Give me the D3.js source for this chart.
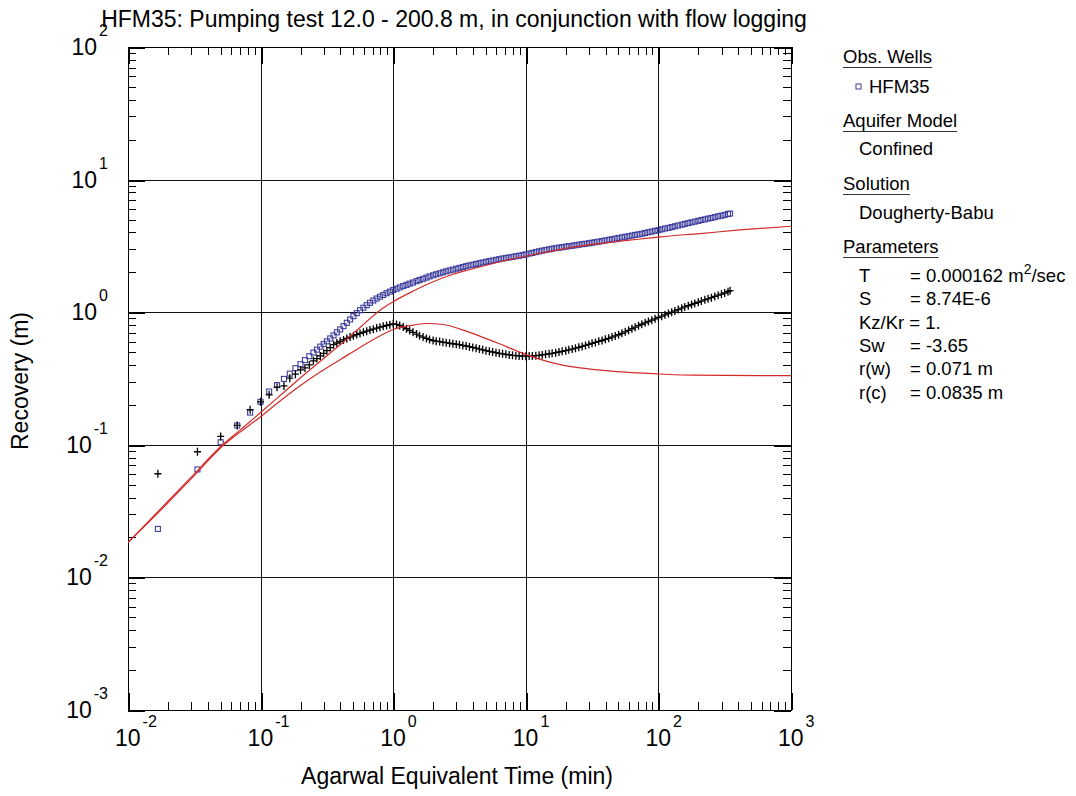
<!DOCTYPE html>
<html>
<head>
<meta charset="utf-8">
<script src="https://cdn.jsdelivr.net/npm/d3@7"></script>
<style>
  body { margin: 0; background: #fff; }
  svg { font-family: Arial, "Liberation Sans", sans-serif; }
</style>
</head>
<body>
<svg id="chart" width="1076" height="796"></svg>
<script>
// observed data: Agarwal equivalent time (min), recovery (m) and derivative
const timeMin = [
  0.0168, 0.0334, 0.0500, 0.0666, 0.0834, 0.0999, 0.116, 0.133, 0.150, 0.166, 0.183, 0.200, 0.216, 0.233, 0.250,
  0.266, 0.282, 0.299, 0.316, 0.335, 0.355, 0.376, 0.398, 0.422, 0.447, 0.473, 0.501, 0.531, 0.562, 0.596, 0.631,
  0.668, 0.708, 0.750, 0.794, 0.841, 0.891, 0.944,
  1.00, 1.06, 1.12, 1.19, 1.26, 1.33, 1.41, 1.50, 1.58, 1.68, 1.78, 1.88, 2.00, 2.11, 2.24, 2.37, 2.51, 2.66, 2.82, 2.99,
  3.16, 3.35, 3.55, 3.76, 3.98, 4.22, 4.47, 4.73, 5.01, 5.31, 5.62, 5.96, 6.31, 6.68, 7.08, 7.50, 7.94, 8.41, 8.91, 9.44,
  10.0, 10.6, 11.2, 11.9, 12.6, 13.3, 14.1, 15.0, 15.8, 16.8, 17.8, 18.8, 20.0, 21.1, 22.4, 23.7, 25.1, 26.6, 28.2, 29.9,
  31.6, 33.5, 35.5, 37.6, 39.8, 42.2, 44.7, 47.3, 50.1, 53.1, 56.2, 59.6, 63.1, 66.8, 70.8, 75.0, 79.4, 84.1, 89.1, 94.4,
  100, 106, 112, 119, 126, 133, 141, 150, 158, 168, 178, 188, 200, 211, 224, 237, 251, 266, 282, 299, 316, 335, 347
];
const recovery = [
  0.0232, 0.0652, 0.1045, 0.140, 0.175, 0.211, 0.252, 0.282, 0.314, 0.344, 0.378, 0.405, 0.435, 0.466, 0.496,
  0.522, 0.550, 0.575, 0.603, 0.634, 0.668, 0.705, 0.741, 0.785, 0.832, 0.881, 0.933, 0.984, 1.035, 1.081, 1.130,
  1.178, 1.225, 1.268, 1.309, 1.349, 1.390, 1.429,
  1.469, 1.503, 1.538, 1.574, 1.607, 1.641, 1.675, 1.714, 1.750, 1.786, 1.824, 1.862, 1.897, 1.932, 1.963, 2.000, 2.032, 2.065, 2.094, 2.128,
  2.158, 2.193, 2.223, 2.254, 2.280, 2.312, 2.339, 2.371, 2.399, 2.427, 2.455, 2.483, 2.512, 2.541, 2.565, 2.588, 2.612, 2.642, 2.667, 2.698,
  2.729, 2.767, 2.799, 2.838, 2.877, 2.911, 2.944, 2.979, 3.013, 3.041, 3.069, 3.090, 3.119, 3.148, 3.170, 3.199, 3.228, 3.258, 3.281, 3.311,
  3.342, 3.373, 3.404, 3.443, 3.475, 3.516, 3.548, 3.589, 3.631, 3.664, 3.707, 3.741, 3.784, 3.828, 3.864, 3.908, 3.954, 4.009, 4.055, 4.111,
  4.159, 4.217, 4.276, 4.325, 4.385, 4.446, 4.508, 4.571, 4.634, 4.699, 4.764, 4.819, 4.887, 4.955, 5.012, 5.082, 5.140, 5.212, 5.284, 5.346, 5.420, 5.495, 5.546
];
const derivative = [
  0.0605, 0.0886, 0.1156, 0.140, 0.184, 0.211, 0.238, 0.272, 0.278, 0.318, 0.341, 0.367, 0.380, 0.400, 0.430,
  0.447, 0.468, 0.490, 0.513, 0.541, 0.569, 0.586, 0.603, 0.618, 0.634, 0.649, 0.664, 0.678, 0.692, 0.706, 0.719,
  0.733, 0.745, 0.759, 0.771, 0.783, 0.794, 0.805,
  0.817, 0.809, 0.794, 0.773, 0.750, 0.728, 0.705, 0.684, 0.664, 0.649, 0.634, 0.622, 0.612, 0.605, 0.600, 0.594, 0.589, 0.583, 0.578, 0.574,
  0.569, 0.562, 0.556, 0.550, 0.542, 0.535, 0.527, 0.520, 0.513, 0.507, 0.501, 0.495, 0.490, 0.485, 0.481, 0.476, 0.473, 0.470, 0.468, 0.467,
  0.466, 0.467, 0.468, 0.470, 0.473, 0.476, 0.481, 0.485, 0.490, 0.495, 0.501, 0.507, 0.513, 0.520, 0.527, 0.535, 0.543, 0.552, 0.562, 0.571,
  0.582, 0.592, 0.603, 0.612, 0.624, 0.635, 0.649, 0.662, 0.676, 0.693, 0.711, 0.730, 0.750, 0.771, 0.791, 0.811, 0.832, 0.851, 0.871, 0.891,
  0.912, 0.933, 0.955, 0.977, 1.000, 1.023, 1.047, 1.072, 1.096, 1.119, 1.143, 1.164, 1.189, 1.213, 1.239, 1.262, 1.288, 1.315, 1.343, 1.368, 1.396, 1.429, 1.452
];

// fitted Dougherty-Babu curves
const modelTime = [0.01, 0.02, 0.03, 0.05, 0.07, 0.1, 0.14, 0.2, 0.28, 0.4, 0.565, 0.8, 1.0, 1.43, 1.9, 2.69, 3.81, 5.39, 7.62, 10.8, 28.8, 61, 103, 206, 413, 1000];
const modelRecovery = [0.0183, 0.0375, 0.057, 0.097, 0.129, 0.175, 0.235, 0.32, 0.425, 0.57, 0.77, 1.04, 1.20, 1.45, 1.66, 1.9, 2.1, 2.3, 2.5, 2.69, 3.2, 3.49, 3.70, 3.92, 4.17, 4.45];
const modelDerivTime = [0.01, 0.02, 0.03, 0.05, 0.1, 0.141, 0.2, 0.283, 0.4, 0.565, 0.8, 1.0, 1.42, 1.8, 2.4, 3.2, 4.6, 6.4, 9.0, 12.5, 18.2, 25.8, 46, 103, 183, 1000];
const modelDerivative = [0.0183, 0.0365, 0.0555, 0.095, 0.163, 0.215, 0.28, 0.355, 0.44, 0.545, 0.665, 0.74, 0.80, 0.822, 0.808, 0.745, 0.655, 0.575, 0.50, 0.445, 0.402, 0.38, 0.358, 0.342, 0.335, 0.332];

const xExponents = [-2, -1, 0, 1, 2, 3];
const yExponents = [-3, -2, -1, 0, 1, 2];

const legendSections = ['Obs. Wells', 'Aquifer Model', 'Solution', 'Parameters'];
const paramNames = ['T', 'S', 'Kz/Kr', 'Sw', 'r(w)', 'r(c)'];
const paramValues = ['0.000162 m', '8.74E-6', '1.', '-3.65', '0.071 m', '0.0835 m'];

const svg = d3.select('#chart');
const L = 128, R = 791, T = 47, B = 710;

const x = d3.scaleLog().domain([0.01, 1000]).range([L, R]);
const y = d3.scaleLog().domain([0.001, 100]).range([B, T]);

const crisp = v => Math.round(v) + 0.5;

// grid lines at every decade
const grid = svg.append('g').attr('stroke', '#111').attr('stroke-width', 1).attr('shape-rendering', 'crispEdges');
xExponents.slice(1, -1).forEach(e => {
  const px = crisp(x(Math.pow(10, e)));
  grid.append('line').attr('x1', px).attr('x2', px).attr('y1', T).attr('y2', B);
});
yExponents.slice(1, -1).forEach(e => {
  const py = crisp(y(Math.pow(10, e)));
  grid.append('line').attr('x1', L).attr('x2', R).attr('y1', py).attr('y2', py);
});

// minor and major ticks, pointing inwards on all four sides
const ticks = svg.append('g').attr('stroke', '#000').attr('shape-rendering', 'crispEdges');
xExponents.forEach(e => {
  const d = Math.pow(10, e);
  const px = crisp(x(d));
  ticks.append('line').attr('x1', px).attr('x2', px).attr('y1', B).attr('y2', B - 17).attr('stroke-width', 2);
  ticks.append('line').attr('x1', px).attr('x2', px).attr('y1', T).attr('y2', T + 17).attr('stroke-width', 2);
  if (e === 3) return;
  d3.range(2, 10).forEach(k => {
    const p = crisp(x(d * k));
    ticks.append('line').attr('x1', p).attr('x2', p).attr('y1', B).attr('y2', B - 8);
    ticks.append('line').attr('x1', p).attr('x2', p).attr('y1', T).attr('y2', T + 8);
  });
});
yExponents.forEach(e => {
  const d = Math.pow(10, e);
  const py = crisp(y(d));
  ticks.append('line').attr('x1', L).attr('x2', L + 17).attr('y1', py).attr('y2', py).attr('stroke-width', 2);
  ticks.append('line').attr('x1', R).attr('x2', R - 17).attr('y1', py).attr('y2', py).attr('stroke-width', 2);
  if (e === 2) return;
  d3.range(2, 10).forEach(k => {
    const p = crisp(y(d * k));
    ticks.append('line').attr('x1', L).attr('x2', L + 8).attr('y1', p).attr('y2', p);
    ticks.append('line').attr('x1', R).attr('x2', R - 8).attr('y1', p).attr('y2', p);
  });
});

svg.append('rect').attr('x', L + 0.5).attr('y', T + 0.5).attr('width', R - L).attr('height', B - T)
  .attr('fill', 'none').attr('stroke', '#000').attr('stroke-width', 1);

// clip everything drawn from the data to the plot area
svg.append('clipPath').attr('id', 'plotClip')
  .append('rect').attr('x', L).attr('y', T).attr('width', R - L).attr('height', B - T);
const plot = svg.append('g').attr('clip-path', 'url(#plotClip)');

const obs = timeMin.map((t, i) => ({ t: t, s: recovery[i], d: derivative[i] }));

plot.append('g').selectAll('rect').data(obs).enter()
  .append('rect')
  .attr('x', o => x(o.t) - 2.5).attr('y', o => y(o.s) - 2.5)
  .attr('width', 5).attr('height', 5)
  .attr('fill', 'none').attr('stroke', '#3d3d9c').attr('stroke-width', 1.1);

plot.append('g').selectAll('path').data(obs).enter()
  .append('path')
  .attr('d', o => `M${x(o.t) - 3.5},${y(o.d)}h7M${x(o.t)},${y(o.d) - 4}v8`)
  .attr('stroke', '#000').attr('stroke-width', 1.3).attr('fill', 'none');

const line = d3.line().x(p => x(p[0])).y(p => y(p[1])).curve(d3.curveMonotoneX);
plot.append('path')
  .attr('d', line(modelTime.map((t, i) => [t, modelRecovery[i]])))
  .attr('fill', 'none').attr('stroke', '#d42a2a').attr('stroke-width', 1.2);
plot.append('path')
  .attr('d', line(modelDerivTime.map((t, i) => [t, modelDerivative[i]])))
  .attr('fill', 'none').attr('stroke', '#d42a2a').attr('stroke-width', 1.2);

// tick labels as 10 with superscript exponent
xExponents.forEach(e => {
  const t = svg.append('text').attr('x', x(Math.pow(10, e)) - 13).attr('y', 746)
    .attr('font-size', 23).attr('fill', '#000');
  t.append('tspan').text('10');
  t.append('tspan').attr('dy', -19).attr('dx', 2).attr('font-size', 16).text(e);
});
yExponents.forEach(e => {
  const t = svg.append('text').attr('x', 108).attr('y', y(Math.pow(10, e)) + 8)
    .attr('text-anchor', 'end').attr('font-size', 23).attr('fill', '#000');
  t.append('tspan').text('10');
  t.append('tspan').attr('dy', -19).attr('dx', 2).attr('font-size', 16).text(e);
});

svg.append('text').attr('x', 454).attr('y', 27).attr('text-anchor', 'middle')
  .attr('font-size', 23).text('HFM35: Pumping test 12.0 - 200.8 m, in conjunction with flow logging');
svg.append('text').attr('x', 457).attr('y', 784).attr('text-anchor', 'middle')
  .attr('font-size', 23).text('Agarwal Equivalent Time (min)');
svg.append('text').attr('transform', 'translate(28,381) rotate(-90)').attr('text-anchor', 'middle')
  .attr('font-size', 23).text('Recovery (m)');

// legend on the right
const legend = svg.append('g').attr('font-size', 18.5).attr('fill', '#000');
const headY = [63, 127, 190, 253];
legendSections.forEach((name, i) => {
  const t = legend.append('text').attr('x', 843).attr('y', headY[i]).text(name);
  const w = t.node().getComputedTextLength();
  legend.append('line').attr('x1', 843).attr('x2', 843 + w)
    .attr('y1', headY[i] + 4.5).attr('y2', headY[i] + 4.5)
    .attr('stroke', '#333').attr('stroke-width', 1.2);
});
legend.append('rect').attr('x', 856).attr('y', 84).attr('width', 5).attr('height', 5)
  .attr('fill', 'none').attr('stroke', '#3d3d9c').attr('stroke-width', 1);
legend.append('text').attr('x', 869).attr('y', 93).text('HFM35');
legend.append('text').attr('x', 859).attr('y', 155).text('Confined');
legend.append('text').attr('x', 859).attr('y', 219).text('Dougherty-Babu');

paramNames.forEach((name, i) => {
  const py = 282 + i * 23.3;
  if (name === 'Kz/Kr') {
    legend.append('text').attr('x', 859).attr('y', py).text(name + ' = ' + paramValues[i]);
    return;
  }
  legend.append('text').attr('x', 859).attr('y', py).text(name);
  const v = legend.append('text').attr('x', 910).attr('y', py).text('= ' + paramValues[i]);
  if (name === 'T') {
    v.append('tspan').attr('dy', -8).attr('font-size', 14).text('2');
    v.append('tspan').attr('dy', 8).text('/sec');
  }
});
</script>
</body>
</html>
